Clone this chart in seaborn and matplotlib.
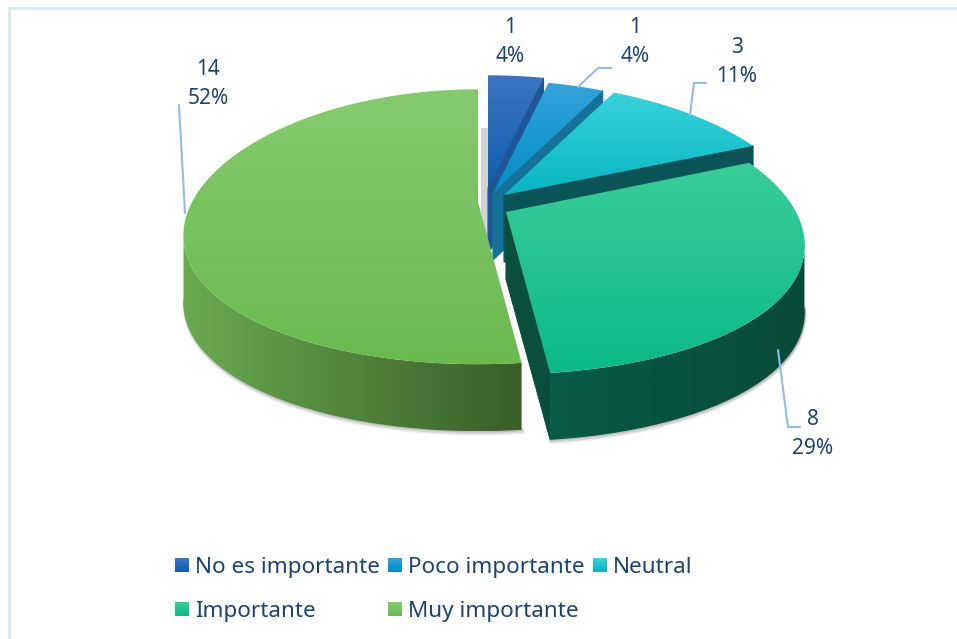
import numpy as np
import matplotlib
matplotlib.use('Agg')
import matplotlib.pyplot as plt
import seaborn as sns
from matplotlib.colors import to_rgb
from matplotlib.legend_handler import HandlerBase
from matplotlib.patches import Patch, Polygon, Rectangle

categories = ['No es importante', 'Poco importante', 'Neutral', 'Importante', 'Muy importante']
counts = [1, 1, 3, 8, 14]
percent_labels = ['4%', '4%', '11%', '29%', '52%']

# gradient colours for each slice (top face, end wall, outer wall)
top_start = ['#3c74c2', '#36a2dc', '#38d2da', '#3acd9a', '#86ca6e']
top_end = ['#0e5fb0', '#008fc4', '#08b6c4', '#0cb988', '#6bba50']
end_wall = ['#1d5596', '#15709a', '#0a5458', '#0a4f3c', '#3b6029']
outer_start = ['#1d5596', '#15709a', '#0a5458', '#085c46', '#68ab50']
outer_end = ['#1d5596', '#15709a', '#0a5458', '#084a38', '#3a5e28']

# where each exploded slice sits on the page, in pixels
slice_x = [488, 493, 504, 506, 478]
slice_y = [188, 193, 195, 212, 202]
radius_x = [297, 297, 297, 290, 286]
radius_y = 133
persp_x, persp_y = 0.24, 0.18
depth = 67

label_x = [510, 635, 737, 813, 208]
label_y = [42, 42, 62, 434, 84]
# leader lines: label slice index and its elbow, in pixels
leader_lines = {
    1: ([578, 598, 611], [87, 68, 68]),
    2: ([690, 694, 706], [115, 83, 83]),
    3: ([778, 788, 800], [350, 427, 427]),
    4: ([185, 179], [213, 105]),
}

TEXT_COLOR = '#1c4473'
LINE_COLOR = '#93bbe9'


def project(theta, i):
    # theta in degrees, clockwise from 12 o'clock, simple perspective on the disc
    t = np.radians(theta)
    x = slice_x[i] + radius_x[i] * np.sin(t) / (1 + persp_x * np.cos(t))
    y = slice_y[i] - radius_y * np.cos(t) / (1 + persp_y * np.cos(t))
    return x, y


def gradient_fill(ax, xy, c1, c2, vertical, z):
    patch = Polygon(xy, closed=True, facecolor='none', edgecolor='none', zorder=z)
    ax.add_patch(patch)
    steps = np.linspace(0, 1, 64)[:, None]
    ramp = (1 - steps) * np.array(to_rgb(c1)) + steps * np.array(to_rgb(c2))
    img = ramp[:, None, :] if vertical else ramp[None, :, :]
    x0, y0 = xy.min(axis=0)
    x1, y1 = xy.max(axis=0)
    im = ax.imshow(img, extent=(x0, x1, y1, y0), aspect='auto', interpolation='bilinear', zorder=z)
    im.set_clip_path(patch)


class GradientHandle(HandlerBase):
    def __init__(self, c1, c2):
        super().__init__()
        self.c1, self.c2 = np.array(to_rgb(c1)), np.array(to_rgb(c2))

    def create_artists(self, legend, orig_handle, xdescent, ydescent, width, height, fontsize, trans):
        parts = []
        n = 10
        side = width
        y0 = (height - side) / 2 - ydescent
        for k in range(n):
            f = k / (n - 1)
            parts.append(Rectangle((-xdescent, y0 + side * (1 - (k + 1) / n)), side, side / n + 0.3,
                                   facecolor=(1 - f) * self.c1 + f * self.c2, edgecolor='none', transform=trans))
        return parts


sns.set_theme(style='white')
plt.rcParams['font.family'] = ['Noto Sans', 'DejaVu Sans']

fig = plt.figure(figsize=(9.57, 6.39), dpi=100)
ax = fig.add_axes([0, 0, 1, 1])

edges = np.cumsum([0] + counts) / sum(counts) * 360

# soft shadow below the walls
for i in [3, 4]:
    th = np.linspace(edges[i], edges[i + 1], 200)
    th = th[np.cos(np.radians(th)) < -0.2]
    xs, ys = project(th, i)
    for off, alpha in [(5, 0.10), (3.5, 0.16), (2, 0.25)]:
        ax.plot(xs + (1 if i == 4 else 0), ys + depth + off - 2, color='#555555', alpha=alpha, lw=2, zorder=1,
                solid_capstyle='round')
ax.add_patch(Rectangle((481, 128), 7, 122, facecolor='#d2d2d2', edgecolor='none', zorder=1))

for i in range(len(counts)):
    z = 2 + i * 3
    th = np.linspace(edges[i], edges[i + 1], 160)
    xs, ys = project(th, i)

    # radial wall along the closing edge of the slice, the last one closes at the back
    if i < len(counts) - 1:
        ex, ey = xs[-1], ys[-1]
        wall_pts = np.array([[slice_x[i], slice_y[i]], [ex, ey], [ex, ey + depth], [slice_x[i], slice_y[i] + depth]])
        ax.add_patch(Polygon(wall_pts, closed=True, facecolor=end_wall[i], edgecolor=end_wall[i], lw=0.8, zorder=z))

    # outer wall, only the part that faces the viewer
    front = np.cos(np.radians(th)) < -0.2
    if front.any():
        wx, wy = xs[front], ys[front]
        wall = np.column_stack([np.r_[wx, wx[::-1]], np.r_[wy, wy[::-1] + depth]])
        gradient_fill(ax, wall, outer_start[i], outer_end[i], False, z + 1)

    # top face
    top = np.column_stack([np.r_[slice_x[i], xs], np.r_[slice_y[i], ys]])
    gradient_fill(ax, top, top_start[i], top_end[i], True, z + 2)

# leader lines and labels
for i, (lx, ly) in leader_lines.items():
    ax.plot(lx, ly, color=LINE_COLOR, lw=1.5, zorder=30, solid_joinstyle='miter')
for i in range(len(counts)):
    ax.text(label_x[i], label_y[i], f'{counts[i]}\n{percent_labels[i]}', color=TEXT_COLOR, fontsize=15,
            ha='center', va='center', linespacing=1.45, zorder=31)

# chart frame
ax.plot([9, 9, 957], [639, 8, 8], color='#d9e8f8', lw=2, zorder=0)

# legend fills by column, so order the entries to read across
order = [0, 3, 1, 4, 2]
handles = [Patch() for _ in order]
handler_map = {h: GradientHandle(top_start[k], top_end[k]) for h, k in zip(handles, order)}
ax.legend(handles, [categories[k] for k in order], handler_map=handler_map, ncol=3, frameon=False,
          loc='upper left', bbox_to_anchor=(175 / 957, 1 - 557 / 639), borderaxespad=0, borderpad=0,
          prop={'size': 16.2}, labelcolor=TEXT_COLOR, handlelength=0.62, handletextpad=0.27,
          columnspacing=0.36, labelspacing=1.03)

ax.set_xlim(0, 957)
ax.set_ylim(639, 0)
ax.axis('off')

fig.savefig('out.png', dpi=100, facecolor='white')
